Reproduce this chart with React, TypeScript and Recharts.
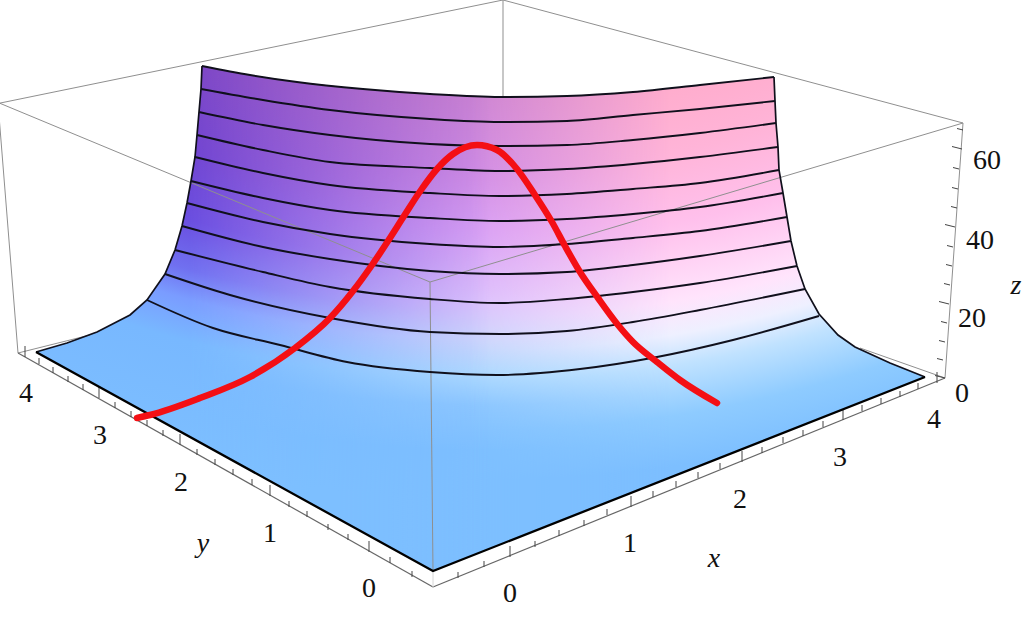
import { Area, ComposedChart, LabelList, Line, XAxis, YAxis } from "recharts";

type Pair = [number, number];

const leftEdge: Pair[] = [[36, 352], [67, 343], [97, 332], [130, 315], [147, 300], [165, 274], [175, 250], [182, 226], [187, 203], [191, 181], [195, 157], [197, 135], [199, 112], [201, 89], [202, 66]];
const rightEdge: Pair[] = [[774, 77], [775, 101], [776, 123], [778, 147], [779, 170], [783, 193], [787, 217], [791, 241], [797, 266], [805, 289], [819, 314], [838, 335], [855, 347], [890, 363], [925, 377]];
const floorEdge: Pair[] = [[36, 352], [433, 571], [925, 377]];

const contours: Pair[][] = [
  [[202, 66], [250, 75], [297, 82], [363, 89], [430, 94], [500, 97], [567, 96], [633, 92], [700, 85], [774, 77]],
  [[201, 89], [263, 100], [330, 110], [430, 119], [500, 122], [567, 121], [633, 115], [700, 109], [775, 101]],
  [[199, 112], [263, 125], [330, 135], [430, 144], [500, 146], [567, 145], [633, 140], [700, 133], [776, 123]],
  [[197, 135], [263, 150], [330, 162], [430, 168], [500, 171], [567, 169], [633, 164], [700, 157], [778, 147]],
  [[195, 157], [263, 173], [330, 185], [430, 193], [500, 196], [567, 194], [633, 189], [700, 183], [779, 170]],
  [[191, 181], [263, 198], [330, 210], [430, 218], [500, 221], [567, 219], [633, 214], [700, 207], [783, 193]],
  [[187, 203], [263, 222], [330, 234], [430, 244], [500, 247], [567, 244], [633, 238], [700, 231], [787, 217]],
  [[182, 226], [263, 247], [330, 259], [430, 271], [500, 274], [567, 272], [633, 265], [700, 256], [791, 241]],
  [[175, 250], [263, 272], [330, 287], [430, 299], [500, 303], [567, 299], [633, 292], [700, 283], [797, 266]],
  [[165, 274], [230, 295], [330, 318], [430, 332], [500, 334], [567, 331], [633, 322], [700, 310], [805, 289]],
  [[147, 300], [213, 328], [280, 345], [347, 362], [430, 372], [497, 375], [580, 369], [657, 357], [733, 340], [819, 316]],
];

const redCurve: Pair[] = [[137, 418], [150, 415], [200, 398], [250, 377], [295, 348], [330, 318], [353, 291], [372, 265], [388, 241], [404, 216], [421, 190], [437, 169], [453, 154], [477, 145], [497, 150], [517, 169], [535, 195], [552, 222], [565, 246], [580, 272], [598, 298], [618, 325], [633, 342], [657, 362], [680, 380], [717, 403]];

// x, top, bottom of the whole coloured sheet
const sheet: [number, number, number][] = [
  [36, 352, 352], [67, 343, 369], [97, 332, 385], [130, 315, 404], [147, 300, 413], [165, 274, 423], [175, 250, 429], [182, 226, 433], [187, 203, 435], [191, 181, 437], [195, 157, 440], [197, 135, 441], [199, 112, 442], [201, 89, 443], [202, 66, 444],
  [250, 75, 470], [297, 82, 496], [363, 89, 532], [433, 94, 571], [500, 97, 545], [567, 96, 518], [633, 92, 492], [700, 85, 466], [774, 77, 436], [775, 101, 436], [776, 123, 436], [778, 147, 435], [779, 170, 435], [783, 193, 433], [787, 217, 432], [791, 241, 430], [797, 266, 428], [805, 289, 425], [819, 314, 419], [838, 335, 412], [855, 347, 405], [890, 363, 391], [925, 377, 377],
];

const backLines: Pair[][] = [
  [[-2, 103.5], [503, 0]],
  [[503, 0], [963, 123]],
  [[503, 0], [503, 97]],
  [[-2, 103], [18, 353]],
  [[18, 353], [90, 335]],
  [[945, 378], [860, 348]],
  [[-2, 102.5], [430, 282]],
  [[963, 123], [430, 282]],
  [[430, 282], [433, 571]],
  [[945, 378], [963, 123]],
];
const frontLines: Pair[][] = [
  [[18, 353], [433, 587]],
  [[433, 587], [945, 378]],
];
const paleLine: Pair[] = [[433, 571], [433, 587]];

const yMinorTicks: Pair[] = [[39, 364], [53, 373], [68, 382], [83, 390], [115, 408], [131, 417], [147, 426], [163, 436], [197, 455], [215, 465], [233, 475], [252, 485], [289, 507], [307, 517], [328, 530], [348, 540], [390, 563], [412, 577]];
const yMajorTicks: Pair[] = [[25, 357], [99, 398], [180, 445], [270, 496], [369, 552]];
const xMinorTicks: Pair[] = [[458, 578], [484, 567], [535, 547], [559, 536], [584, 526], [607, 515], [653, 497], [676, 487], [698, 478], [720, 469], [762, 453], [783, 443], [803, 436], [823, 427], [862, 411], [881, 404], [900, 397], [918, 389]];
const xMajorTicks: Pair[] = [[510, 557], [631, 507], [742, 462], [843, 420], [937, 383]];
const zMinorTicks: Pair[] = [[963, 130], [959, 169], [958, 189], [957, 208], [953, 247], [952, 266], [950, 285], [947, 323], [945, 342], [943, 360]];
const zMajorTicks: Pair[] = [[962, 149], [955, 227], [949, 304], [945, 378]];

const tickLabels = [
  { x: 26, y: 392, text: "4" }, { x: 100, y: 434, text: "3" }, { x: 181, y: 481, text: "2" }, { x: 270, y: 532, text: "1" }, { x: 369, y: 587, text: "0" },
  { x: 510, y: 592, text: "0" }, { x: 630, y: 542, text: "1" }, { x: 740, y: 498, text: "2" }, { x: 840, y: 456, text: "3" }, { x: 934, y: 418, text: "4" },
  { x: 962, y: 392, text: "0" }, { x: 972, y: 317, text: "20" }, { x: 980, y: 239, text: "40" }, { x: 987, y: 159, text: "60" },
];
const axisNames = [
  { x: 714, y: 557, text: "x" }, { x: 203, y: 542, text: "y" }, { x: 1016, y: 284, text: "z" },
];

// colour columns of the sheet, [height on the surface, colour]
const leftColumn: [number, string][] = [[100, "#7c45c4"], [195, "#7044d0"], [262, "#6a4ee0"], [310, "#7070f0"], [339, "#7a9cff"], [380, "#78b8ff"], [500, "#7dbfff"]];
const midColumn: [number, string][] = [[97, "#cc84d4"], [170, "#d08ce4"], [230, "#d8a0f4"], [300, "#dcc0fc"], [340, "#ccd4fc"], [375, "#acd8ff"], [405, "#8cc6ff"], [450, "#7dbfff"]];
const rightColumn: [number, string][] = [[100, "#ffaccc"], [170, "#ffb4d8"], [240, "#ffc0ec"], [317, "#ffe4fc"], [350, "#eef0ff"], [380, "#c0e2ff"], [430, "#8ecbff"], [480, "#7dbfff"]];

const toPoints = (pairs: Pair[]) => pairs.map(([x, y]) => ({ x, y }));
const sheetData = sheet.map(([x, top, bottom]) => ({ x, band: [top, bottom] }));

const verticalTicks = (ticks: Pair[], len: number) =>
  ticks.flatMap(([x, y]) => [{ x, y }, { x, y: y - len }, { x, y: null }]);
const sideTicks = (ticks: Pair[], len: number) =>
  ticks.flatMap(([x, y]) => [{ x, y }, { x: x - len, y: y - len / 4 }, { x, y: null }]);

const Column = ({ id, stops }: { id: string; stops: [number, string][] }) => (
  <radialGradient id={id} gradientUnits="userSpaceOnUse" cx={487} cy={-800} r={1400}>
    {stops.map(([h, c]) => (
      <stop key={h} offset={(h + 800) / 1400} stopColor={c} />
    ))}
  </radialGradient>
);

const SERIF = "'Liberation Serif', serif";

export default function App() {
  return (
    <div style={{ position: "absolute", left: 0, top: 0 }}>
      <ComposedChart width={1024} height={618} margin={{ top: 0, right: 0, bottom: 0, left: 0 }}>
        <defs>
          <Column id="colLeft" stops={leftColumn} />
          <Column id="colMid" stops={midColumn} />
          <Column id="colRight" stops={rightColumn} />
          <linearGradient id="fadeMid" gradientUnits="userSpaceOnUse" x1={470} y1={0} x2={670} y2={0}>
            <stop offset={0} stopColor="#fff" />
            <stop offset={1} stopColor="#000" />
          </linearGradient>
          <linearGradient id="fadeLeft" gradientUnits="userSpaceOnUse" x1={190} y1={0} x2={490} y2={0}>
            <stop offset={0} stopColor="#fff" />
            <stop offset={1} stopColor="#000" />
          </linearGradient>
          <mask id="maskMid" maskUnits="userSpaceOnUse" x={0} y={0} width={1024} height={618}>
            <rect x={0} y={0} width={1024} height={618} fill="url(#fadeMid)" />
          </mask>
          <mask id="maskLeft" maskUnits="userSpaceOnUse" x={0} y={0} width={1024} height={618}>
            <rect x={0} y={0} width={1024} height={618} fill="url(#fadeLeft)" />
          </mask>
        </defs>
        <XAxis type="number" dataKey="x" domain={[0, 1024]} allowDataOverflow hide />
        <YAxis type="number" domain={[0, 618]} reversed hide />

        <Area data={sheetData} dataKey="band" type="linear" stroke="none" fill="url(#colRight)" fillOpacity={1} isAnimationActive={false} />
        <Area data={sheetData} dataKey="band" type="linear" stroke="none" fill="url(#colMid)" fillOpacity={1} mask="url(#maskMid)" isAnimationActive={false} />
        <Area data={sheetData} dataKey="band" type="linear" stroke="none" fill="url(#colLeft)" fillOpacity={1} mask="url(#maskLeft)" isAnimationActive={false} />

        {backLines.map((seg, i) => (
          <Line key={i} data={toPoints(seg)} dataKey="y" type="linear" stroke="#8f8f8f" strokeWidth={1} dot={false} isAnimationActive={false} />
        ))}
        {frontLines.map((seg, i) => (
          <Line key={i} data={toPoints(seg)} dataKey="y" type="linear" stroke="#666" strokeWidth={1.2} dot={false} isAnimationActive={false} />
        ))}
        <Line data={toPoints(paleLine)} dataKey="y" type="linear" stroke="#d8d8d8" strokeWidth={1} dot={false} isAnimationActive={false} />
        <Line data={verticalTicks(yMinorTicks, 6)} dataKey="y" stroke="#444" strokeWidth={1} dot={false} isAnimationActive={false} />
        <Line data={verticalTicks(yMajorTicks, 11)} dataKey="y" stroke="#444" strokeWidth={1} dot={false} isAnimationActive={false} />
        <Line data={verticalTicks(xMinorTicks, 6)} dataKey="y" stroke="#444" strokeWidth={1} dot={false} isAnimationActive={false} />
        <Line data={verticalTicks(xMajorTicks, 11)} dataKey="y" stroke="#444" strokeWidth={1} dot={false} isAnimationActive={false} />
        <Line data={sideTicks(zMinorTicks, 6)} dataKey="y" stroke="#444" strokeWidth={1} dot={false} isAnimationActive={false} />
        <Line data={sideTicks(zMajorTicks, 10)} dataKey="y" stroke="#444" strokeWidth={1} dot={false} isAnimationActive={false} />

        {contours.map((c, i) => (
          <Line key={i} data={toPoints(c)} dataKey="y" type="monotone" stroke="#10101c" strokeWidth={1.9} dot={false} isAnimationActive={false} />
        ))}
        <Line data={toPoints(leftEdge)} dataKey="y" type="linear" stroke="#10101c" strokeWidth={1.7} dot={false} isAnimationActive={false} />
        <Line data={toPoints(rightEdge)} dataKey="y" type="linear" stroke="#10101c" strokeWidth={1.7} dot={false} isAnimationActive={false} />
        <Line data={toPoints(floorEdge)} dataKey="y" type="linear" stroke="#000" strokeWidth={2.3} dot={false} isAnimationActive={false} />

        <Line data={toPoints(redCurve)} dataKey="y" type="monotone" stroke="#f40f14" strokeWidth={6.5} strokeLinecap="round" dot={false} isAnimationActive={false} />

        <Line data={tickLabels} dataKey="y" stroke="none" dot={false} isAnimationActive={false}>
          <LabelList dataKey="text" position="center" fontFamily={SERIF} fontSize={28} fill="#111" />
        </Line>
        <Line data={axisNames} dataKey="y" stroke="none" dot={false} isAnimationActive={false}>
          <LabelList dataKey="text" position="center" fontFamily={SERIF} fontStyle="italic" fontSize={28} fill="#111" />
        </Line>
      </ComposedChart>
    </div>
  );
}
